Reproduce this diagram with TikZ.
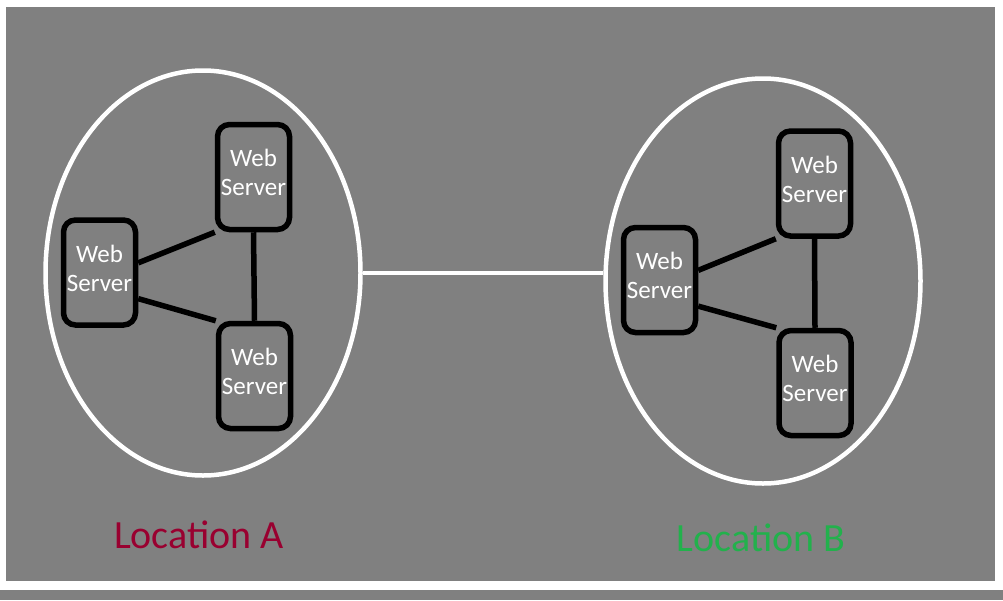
\documentclass[tikz,border=0pt]{standalone}
\usepackage{fontspec}
\setmainfont{Carlito}
\usepackage{tikz}
\usetikzlibrary{positioning,shapes.geometric}
\definecolor{bggray}{RGB}{128,128,128}
\definecolor{locred}{RGB}{153,0,48}
\definecolor{locgreen}{RGB}{34,177,76}
\tikzset{d/.style={line width=5.5pt}}

\begin{document}
\begin{tikzpicture}[x=1pt,y=-1pt,
server/.style={rectangle, rounded corners=12pt, draw=black, d, minimum width=72pt, minimum height=105pt, text depth=9pt, align=center, text=white, font=\fontsize{25}{29}\selectfont},
loc/.style={ellipse, draw=white, line width=4.5pt, minimum width=315pt, minimum height=405pt},
place/.style={font=\fontsize{40}{46}\selectfont},
]
\useasboundingbox (0,0) rectangle (1003,600);
\fill[white] (0,0) rectangle (1003,600);
\fill[bggray] (6,7) rectangle (995,581);
\fill[bggray] (0,590) rectangle (1003,600);
% locations
\node[loc] (locA) at (203,273) {};
\node[loc] (locB) at (763,281) {};
\draw[-,white,line width=4.5pt] (locA.east) -- (locA.east -| locB.west);
% location A
\node[server] (wa1) at (99.5,272.5) {Web\\Server};
\node[server] (wa2) at (253.5,177) {Web\\Server};
\node[server] (wa3) at (254.5,376) {Web\\Server};
\draw[-,d] (wa1.14) -- (wa2.south west);
\draw[-,d] (wa1.-34) -- (wa3.north west);
\draw[-,d] (wa2.south) -- (wa3.north);
% location B
\node[server] (wb1) at (659.5,280) {Web\\Server};
\node[server] (wb2) at (814.5,183.5) {Web\\Server};
\node[server] (wb3) at (815,383) {Web\\Server};
\draw[-,d] (wb1.14) -- (wb2.south west);
\draw[-,d] (wb1.-34) -- (wb3.north west);
\draw[-,d] (wb2.south) -- (wb3.north);
\node[place, text=locred] (nameA) at (199,535) {Location A};
\node[place, text=locgreen] (nameB) at (761,538) {Location B};
\end{tikzpicture}
\end{document}
